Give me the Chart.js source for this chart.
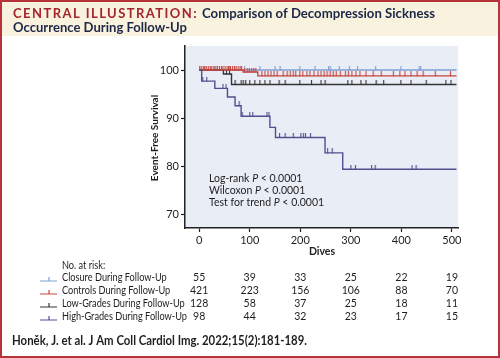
<!DOCTYPE html>
<html>
<head>
<meta charset="utf-8">
<script src="https://cdn.jsdelivr.net/npm/chart.js@4.4.0/dist/chart.umd.min.js"></script>
<style>
  html, body { margin: 0; padding: 0; background: #fff; }
  canvas { display: block; }
</style>
</head>
<body>
<canvas id="dcs-chart" width="500" height="358"></canvas>
<script>
// Curvas Kaplan-Meier: tiempos (dives) y supervivencia libre de eventos (%)
const closureTimes = [0, 509];
const closureSurv = [100, 100];
const closureCensor = [10, 30, 60, 90, 120, 150, 160, 199, 229, 256, 259, 277, 297, 313, 349, 399, 435, 438];

const controlTimes = [0, 87, 116, 509];
const controlSurv = [100, 99.6, 98.8, 98.8];
const controlCensor = [1, 4, 8, 11, 14, 18, 22, 25, 29, 33, 36, 40, 44, 47, 51, 55, 58, 62, 66, 70, 73, 77, 81, 84,
  90, 95, 99, 104, 108, 112,
  124, 130, 136, 142, 148, 154, 166, 174, 180, 186, 191, 199, 205, 213, 219, 227, 235, 241, 247, 253, 259, 265,
  271, 279, 289, 295, 302, 310, 318, 330, 344, 360, 384, 397, 407, 419, 431, 443, 467, 497];

const lowTimes = [0, 48, 64, 509];
const lowSurv = [100, 99.2, 97.0, 97.0];
const lowCensor = [54, 60, 71, 83, 87, 92, 100, 110, 120, 130, 140, 158, 170, 199, 222, 241, 249, 294, 302, 320,
  330, 350, 365, 399, 419, 449, 488, 498];

const highTimes = [0, 5, 31, 56, 71, 83, 140, 151, 249, 284, 509];
const highSurv = [100, 97.7, 96.2, 94.4, 92.6, 90.4, 88.1, 86.0, 82.8, 79.4, 79.4];
const highCensor = [7, 15, 47, 53, 79, 85, 100, 106, 134, 138, 159, 170, 186, 201, 206, 210, 220, 254, 263,
  300, 309, 341, 348, 421, 429];

const xTicks = [0, 100, 200, 300, 400, 500];
const yTicks = [70, 80, 90, 100];

// Tabla de pacientes en riesgo
const riskLabels = ['Closure During Follow-Up', 'Controls During Follow-Up', 'Low-Grades During Follow-Up', 'High-Grades During Follow-Up'];
const riskClosure = [55, 39, 33, 25, 22, 19];
const riskControls = [421, 223, 156, 106, 88, 70];
const riskLow = [128, 58, 37, 25, 18, 11];
const riskHigh = [98, 44, 32, 23, 17, 15];

const COLORS = {
  closure: '#7f9fd4',
  controls: '#c5463e',
  low: '#353535',
  high: '#514f8e',
  title: '#a5232c',
  navy: '#1c2747',
  text: '#1e1e1e',
  header: '#f8f2de',
  frame: '#b7323a',
  plotBg: '#e9edf6'
};
const FONT = 'Lato, "Open Sans", sans-serif';

function survAt(times, surv, t) {
  let v = surv[0];
  for (let i = 0; i < times.length; i++) {
    if (times[i] <= t) v = surv[i];
  }
  return v;
}

function toPoints(times, surv) {
  return times.map((t, i) => ({ x: t, y: surv[i] }));
}

function censorPoints(times, surv, censor) {
  return censor.map(t => ({ x: t, y: survAt(times, surv, t) }));
}

// Marca de censura: pequeña raya vertical hacia arriba
function censorMark(color) {
  const c = document.createElement('canvas');
  c.width = 3;
  c.height = 9;
  const g = c.getContext('2d');
  g.fillStyle = color;
  g.fillRect(1, 0, 1.1, 5);
  return c;
}

// Texto comprimido/estirado horizontalmente (la fuente original es más estrecha)
function scaledText(ctx, text, x, y, sx) {
  ctx.save();
  ctx.translate(x, y);
  ctx.scale(sx, 1);
  ctx.fillText(text, 0, 0);
  ctx.restore();
}

function fitText(ctx, text, x, y, width) {
  const w = ctx.measureText(text).width;
  scaledText(ctx, text, x, y, width / w);
}

function curve(label, times, surv, color, order) {
  return {
    label: label,
    data: toPoints(times, surv),
    borderColor: color,
    borderWidth: 1.4,
    stepped: true,
    pointRadius: 0,
    fill: false,
    order: order
  };
}

function censorSet(label, times, surv, censor, color, order) {
  return {
    label: label + ' (censored)',
    data: censorPoints(times, surv, censor),
    showLine: false,
    pointStyle: censorMark(color),
    pointRadius: 2,
    pointHoverRadius: 2,
    order: order
  };
}

const overlayPlugin = {
  id: 'overlay',
  beforeDraw(chart) {
    const ctx = chart.ctx;
    const a = chart.chartArea;
    ctx.save();
    ctx.fillStyle = '#fff';
    ctx.fillRect(0, 0, chart.width, chart.height);
    ctx.fillStyle = COLORS.header;
    ctx.fillRect(0, 0, chart.width, 36);
    ctx.fillStyle = COLORS.plotBg;
    ctx.fillRect(a.left, a.top, a.right - a.left, a.bottom - a.top);
    ctx.restore();
  },
  afterDraw(chart) {
    const ctx = chart.ctx;
    const xs = chart.scales.x;
    ctx.save();

    // Título
    ctx.textBaseline = 'alphabetic';
    ctx.textAlign = 'left';
    ctx.font = 'bold 13.5px ' + FONT;
    ctx.letterSpacing = '1.5px';
    ctx.fillStyle = COLORS.title;
    fitText(ctx, 'CENTRAL ILLUSTRATION:', 13, 17.5, 185);
    ctx.letterSpacing = '0px';
    ctx.fillStyle = COLORS.navy;
    fitText(ctx, 'Comparison of Decompression Sickness', 202, 17.5, 233);
    fitText(ctx, 'Occurrence During Follow-Up', 13, 31.5, 174);

    // Título eje Y
    ctx.save();
    ctx.translate(155, 138);
    ctx.rotate(-Math.PI / 2);
    ctx.textAlign = 'center';
    ctx.textBaseline = 'middle';
    ctx.fillStyle = COLORS.text;
    ctx.font = 'bold 10px ' + FONT;
    ctx.fillText('Event-Free Survival', 0, 0);
    ctx.restore();

    // Título eje X
    ctx.textAlign = 'center';
    ctx.textBaseline = 'middle';
    ctx.font = 'bold 10.5px ' + FONT;
    ctx.fillStyle = COLORS.text;
    ctx.fillText('Dives', 322, 252);

    // Pruebas estadísticas
    const stats = [['Log-rank ', ' < 0.0001'], ['Wilcoxon ', ' < 0.0001'], ['Test for trend ', ' < 0.0001']];
    ctx.textAlign = 'left';
    stats.forEach((s, i) => {
      const y = 179 + i * 12;
      let x = 209;
      ctx.font = '10.5px ' + FONT;
      ctx.fillText(s[0], x, y);
      x += ctx.measureText(s[0]).width;
      ctx.font = 'italic 10.5px ' + FONT;
      ctx.fillText('P', x, y);
      x += ctx.measureText('P').width;
      ctx.font = '10.5px ' + FONT;
      ctx.fillText(s[1], x, y);
    });

    // Tabla "No. at risk"
    ctx.font = '10.5px ' + FONT;
    const labelScale = 125 / ctx.measureText(riskLabels[3]).width;
    scaledText(ctx, 'No. at risk:', 62, 266, labelScale);
    const rows = [riskClosure, riskControls, riskLow, riskHigh];
    const rowColors = [COLORS.closure, COLORS.controls, COLORS.low, COLORS.high];
    rows.forEach((vals, r) => {
      const y = 278 + r * 13;
      ctx.strokeStyle = rowColors[r];
      ctx.lineWidth = 1.2;
      ctx.beginPath();
      ctx.moveTo(40, y + 3);
      ctx.lineTo(57, y + 3);
      ctx.moveTo(49, y + 3);
      ctx.lineTo(49, y - 1);
      ctx.stroke();
      ctx.textAlign = 'left';
      ctx.fillStyle = COLORS.text;
      scaledText(ctx, riskLabels[r], 62, y, labelScale);
      ctx.textAlign = 'center';
      vals.forEach((v, i) => {
        ctx.fillText(String(v), xs.getPixelForValue(xTicks[i]), y);
      });
    });

    // Referencia
    ctx.textAlign = 'left';
    ctx.textBaseline = 'alphabetic';
    ctx.font = 'bold 13.5px ' + FONT;
    ctx.fillStyle = COLORS.text;
    fitText(ctx, 'Honěk, J. et al. J Am Coll Cardiol Img. 2022;15(2):181-189.', 12, 345, 295);

    // Marco rojo
    ctx.strokeStyle = COLORS.frame;
    ctx.lineWidth = 2;
    ctx.strokeRect(1, 1, chart.width - 2, chart.height - 2);
    ctx.restore();
  }
};

const axisCommon = {
  grid: { drawOnChartArea: false, drawTicks: true, tickLength: 4, tickColor: '#222', tickWidth: 1.2 },
  border: { display: true, color: '#222', width: 1.5 },
  ticks: { color: COLORS.text, font: { family: FONT, size: 11 }, padding: 2 }
};

new Chart(document.getElementById('dcs-chart'), {
  type: 'line',
  data: {
    datasets: [
      curve('High-Grades During Follow-Up', highTimes, highSurv, COLORS.high, 0),
      censorSet('High-Grades', highTimes, highSurv, highCensor, COLORS.high, 0),
      curve('Controls During Follow-Up', controlTimes, controlSurv, COLORS.controls, 1),
      censorSet('Controls', controlTimes, controlSurv, controlCensor, COLORS.controls, 1),
      curve('Low-Grades During Follow-Up', lowTimes, lowSurv, COLORS.low, 2),
      censorSet('Low-Grades', lowTimes, lowSurv, lowCensor, COLORS.low, 2),
      curve('Closure During Follow-Up', closureTimes, closureSurv, COLORS.closure, 3),
      censorSet('Closure', closureTimes, closureSurv, closureCensor, COLORS.closure, 3)
    ]
  },
  options: {
    responsive: false,
    animation: false,
    devicePixelRatio: 1,
    layout: { padding: { left: 0, top: 46, right: 42, bottom: 100 } },
    plugins: {
      legend: { display: false },
      tooltip: { enabled: false }
    },
    scales: {
      x: {
        type: 'linear',
        min: -28,
        max: 512,
        afterBuildTicks: s => { s.ticks = xTicks.map(v => ({ value: v })); },
        afterFit: s => { s.height = 30; },
        grid: axisCommon.grid,
        border: axisCommon.border,
        ticks: Object.assign({}, axisCommon.ticks, { maxRotation: 0 })
      },
      y: {
        type: 'linear',
        min: 67.2,
        max: 105,
        afterBuildTicks: s => { s.ticks = yTicks.map(v => ({ value: v })); },
        afterFit: s => { s.width = 185; },
        grid: axisCommon.grid,
        border: axisCommon.border,
        ticks: axisCommon.ticks
      }
    }
  },
  plugins: [overlayPlugin]
});
</script>
</body>
</html>
